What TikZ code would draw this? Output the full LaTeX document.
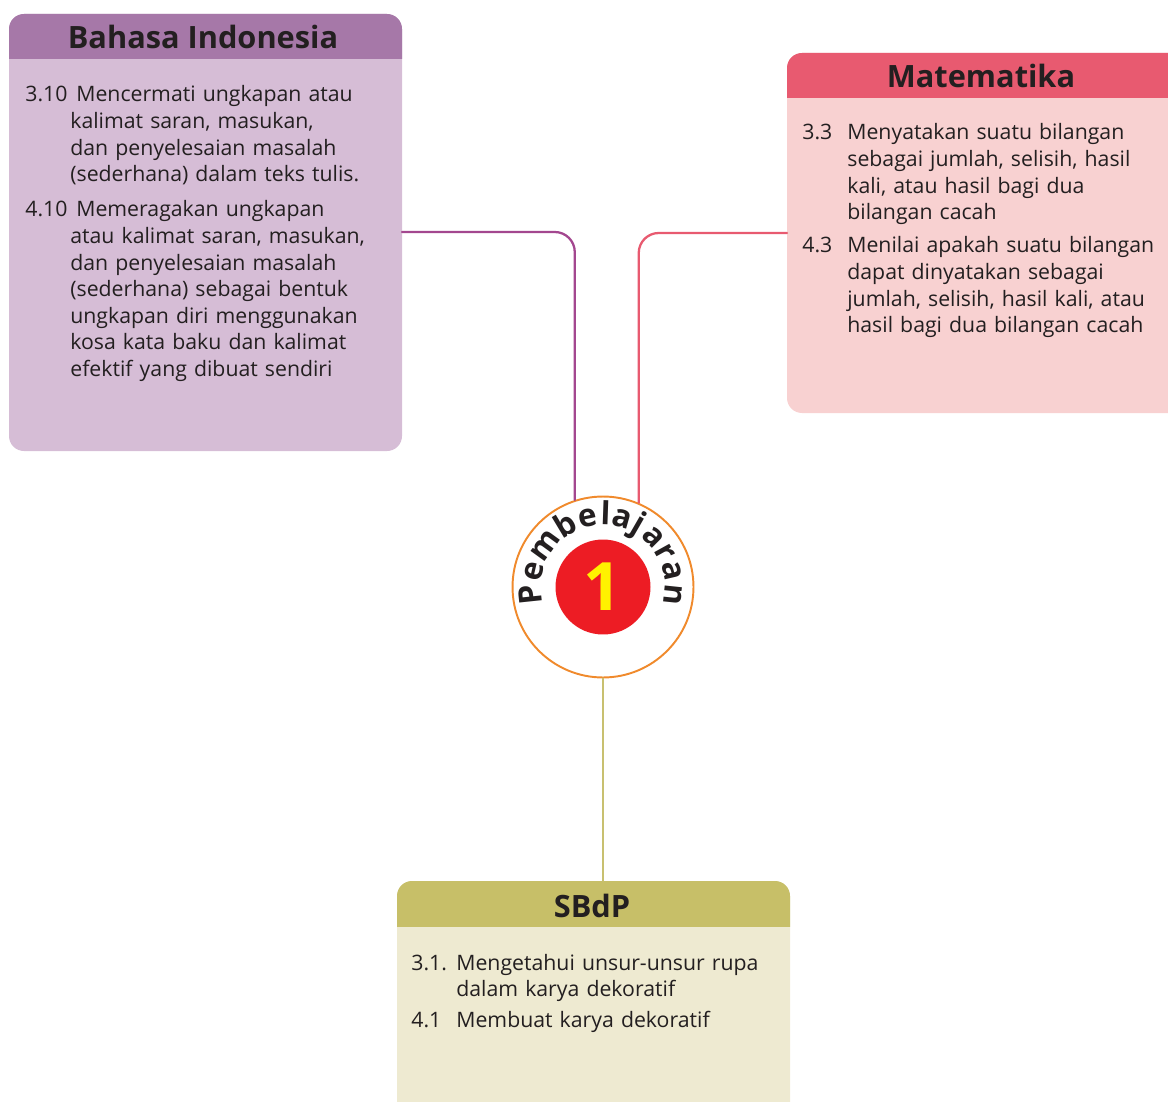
\documentclass[tikz,border=0pt]{standalone}
\usepackage{fontspec}
\setmainfont{Open Sans}
\definecolor{ink}{RGB}{35,31,32}
\definecolor{bihead}{RGB}{166,120,168}
\definecolor{bibody}{RGB}{214,189,214}
\definecolor{biline}{RGB}{163,71,143}
\definecolor{mthead}{RGB}{232,90,112}
\definecolor{mtbody}{RGB}{248,209,209}
\definecolor{mtline}{RGB}{232,90,112}
\definecolor{sbhead}{RGB}{199,191,104}
\definecolor{sbbody}{RGB}{238,234,209}
\definecolor{sbline}{RGB}{200,192,112}
\definecolor{orng}{RGB}{240,138,44}
\definecolor{redc}{RGB}{237,28,36}
\definecolor{yel}{RGB}{255,242,0}
\begin{document}
\begin{tikzpicture}[x=0.02cm,y=0.02cm,line join=round,line cap=round,
	title/.style={font=\fontsize{17.5}{20}\selectfont\bfseries,text=ink,inner sep=0pt,anchor=base},
	num/.style={font=\fontsize{12.1}{15.1}\selectfont,text=ink,inner sep=0pt,anchor=base west},
	item/.style={num,text width=8cm,align=left},
	pbchar/.style={font=\fontsize{18}{20}\selectfont\bfseries,text=ink,inner sep=0pt,anchor=base},
	link/.style={line width=1.3pt,rounded corners=0.4cm}]
	\useasboundingbox (0,0) rectangle (1168,-1101);
	\clip (0,0) rectangle (1168,-1101);
	% kotak Bahasa Indonesia
	\fill[bibody,rounded corners=0.3cm] (9,-14) rectangle (402,-451);
	\begin{scope}
		\clip (9,-14) rectangle (402,-59);
		\fill[bihead,rounded corners=0.3cm] (9,-14) rectangle (402,-451);
	\end{scope}
	\path (402,-232) coordinate (bi);
	\node[title] (bititle) at (203,-49) {Bahasa Indonesia};
	\node[num] (bin1) at (25,-102) {3.10};
	\node[item] (bit1) at (70,-102) {\hspace{0.12cm}Mencermati ungkapan atau\\kalimat saran, masukan,\\dan penyelesaian masalah\\(sederhana) dalam teks tulis.};
	\node[num] (bin2) at (25,-217) {4.10};
	\node[item] (bit2) at (70,-217) {\hspace{0.12cm}Memeragakan ungkapan\\atau kalimat saran, masukan,\\dan penyelesaian masalah\\(sederhana) sebagai bentuk\\ungkapan diri menggunakan\\kosa kata baku dan kalimat\\efektif yang dibuat sendiri};
	% kotak Matematika
	\fill[mtbody,rounded corners=0.3cm] (787,-53) rectangle (1200,-413);
	\begin{scope}
		\clip (787,-53) rectangle (1200,-98);
		\fill[mthead,rounded corners=0.3cm] (787,-53) rectangle (1200,-413);
	\end{scope}
	\path (787,-233) coordinate (mt);
	\node[title] (mttitle) at (981,-88) {Matematika};
	\node[num] (mtn1) at (802,-140) {3.3};
	\node[item] (mtt1) at (847,-140) {Menyatakan suatu bilangan\\sebagai jumlah, selisih, hasil\\kali, atau hasil bagi dua\\bilangan cacah};
	\node[num] (mtn2) at (802,-253) {4.3};
	\node[item] (mtt2) at (847,-253) {Menilai apakah suatu bilangan\\dapat dinyatakan sebagai\\jumlah, selisih, hasil kali, atau\\hasil bagi dua bilangan cacah};
	% kotak SBdP
	\fill[sbbody,rounded corners=0.3cm] (397,-881) rectangle (790,-1130);
	\begin{scope}
		\clip (397,-881) rectangle (790,-926);
		\fill[sbhead,rounded corners=0.3cm] (397,-881) rectangle (790,-1130);
	\end{scope}
	\path (603,-881) coordinate (sb);
	\node[title] (sbtitle) at (592,-917) {SBdP};
	\node[num] (sbn1) at (411,-970) {3.1.};
	\node[item] (sbt1) at (456,-970) {Mengetahui unsur-unsur rupa\\dalam karya dekoratif};
	\node[num] (sbn2) at (411,-1027) {4.1};
	\node[item] (sbt2) at (456,-1027) {Membuat karya dekoratif};
	% lingkaran tengah
	\node[circle,draw=orng,line width=1.1pt,fill=white,minimum size=3.62cm,inner sep=0pt] (pb) at (603,-587) {};
	\node[circle,fill=redc,minimum size=1.9cm,inner sep=0pt,text=yel,font=\fontsize{38}{38}\selectfont\bfseries] (pbnum) at (pb.center) {1};
	\foreach \ch/\ang [count=\i] in {P/186,e/167,m/144,b/121,e/102,l/88,a/74,j/60,a/45,r/29,a/13,n/-6}
		\node[pbchar,rotate=\ang-90] (pbl\i) at ([shift={(\ang:62)}]pb.center) {\ch};
	% garis penghubung
	\draw[link,biline] (bi) -| (pb.108);
	\draw[link,mtline] (mt) -| (pb.67);
	\draw[link,sbline] (pb.south) -- (sb);
\end{tikzpicture}
\end{document}
